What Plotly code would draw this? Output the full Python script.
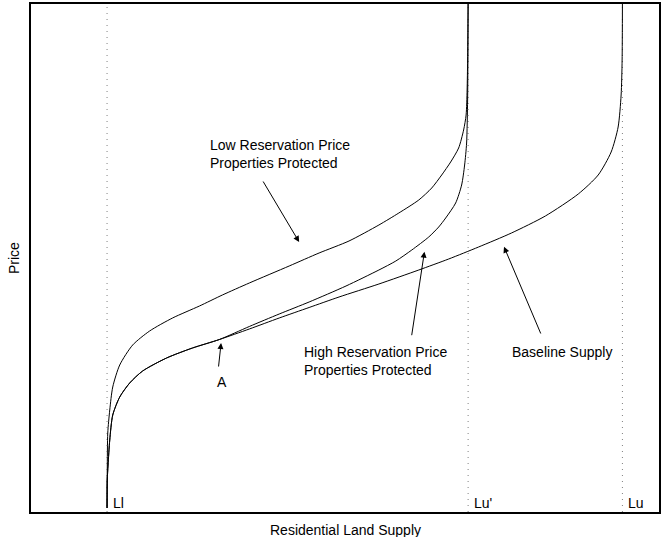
import plotly.graph_objects as go

# Data units: x in [0, 630], y in [0, 508] (no numeric ticks on the original chart)
low_x = [76.3, 76.5, 77, 79, 82, 89, 102, 119, 142, 169, 192, 219, 259, 289, 319, 349, 369, 389, 402, 412, 421, 429, 434, 436.5, 437.5, 438, 438.5]
low_y = [4, 42, 79, 102, 125, 147, 167, 181, 194, 206, 217, 229, 246, 259, 271, 287, 299, 312, 324, 337, 350, 364, 382, 397, 422, 452, 509]

high_x = [76.3, 76.5, 77.3, 79, 82, 89, 99, 112, 136, 162, 189, 219, 249, 279, 316, 349, 366, 382, 399, 409, 416, 426, 432, 435, 437, 438, 438.3, 438.5]
high_y = [4, 32, 47, 72, 97, 115, 129, 141, 154, 164, 172.5, 185.5, 198, 210, 226, 242, 251, 262, 275, 285, 294, 309, 327, 347, 369, 412, 452, 509]

base_x = [76.3, 76.5, 77.3, 79, 82, 89, 99, 112, 136, 162, 189, 219, 249, 279, 309, 349, 389, 419, 449, 482, 516, 549, 569, 582, 589, 592, 593, 593.3]
base_y = [4, 32, 47, 72, 97, 115, 129, 141, 154, 164, 172.5, 183, 194, 204.5, 215, 228, 242, 253, 265, 279, 296, 318, 337, 360, 385, 417, 452, 509]

ref_x = [76.3, 438.5, 593.3]
ref_labels = ["Ll", "Lu'", "Lu"]

FONT = "Liberation Sans, Arial, sans-serif"

fig = go.Figure()
for xs, ys in [(low_x, low_y), (high_x, high_y), (base_x, base_y)]:
    fig.add_trace(go.Scatter(x=xs, y=ys, mode="lines",
                             line=dict(color="black", width=1, shape="spline", smoothing=0.7),
                             hoverinfo="skip", showlegend=False))

for rx in ref_x:
    fig.add_shape(type="line", x0=rx, x1=rx, y0=0, y1=508, xref="x", yref="y",
                  line=dict(color="#808080", width=1, dash="1px,5px"), layer="below")

for rx, lab in zip(ref_x, ref_labels):
    fig.add_annotation(x=rx + 4, y=9, text=lab, showarrow=False, xanchor="left", yanchor="middle",
                       font=dict(family=FONT, size=14, color="black"))

# arrows (tail -> tip)
arrows = [((232, 332), (269, 270)),
          ((188, 144), (190.7, 169)),
          ((381.7, 175.3), (394.7, 260.3)),
          ((512, 177), (474.5, 265.3))]
for (tx, ty), (hx, hy) in arrows:
    fig.add_annotation(x=hx, y=hy, ax=tx, ay=ty, axref="x", ayref="y", xref="x", yref="y",
                       text="", showarrow=True, arrowhead=2, arrowsize=1.2, arrowwidth=1,
                       arrowcolor="black", standoff=0, startstandoff=0)

texts = [(178, 357.7, "Low Reservation Price<br>Properties Protected"),
         (184.5, 130.3, "A"),
         (271.7, 150.7, "High Reservation Price<br>Properties Protected"),
         (480.7, 160.3, "Baseline Supply")]
for x, y, t in texts:
    fig.add_annotation(x=x, y=y, text=t, showarrow=False, xanchor="left", yanchor="middle",
                       align="left", font=dict(family=FONT, size=14, color="black"))

fig.add_annotation(x=0.5, y=-0.0354, xref="paper", yref="paper", text="Residential Land Supply",
                   showarrow=False, xanchor="center", yanchor="middle",
                   font=dict(family=FONT, size=14, color="black"))
fig.add_annotation(x=-0.027, y=0.5, xref="paper", yref="paper", text="Price", textangle=-90,
                   showarrow=False, xanchor="center", yanchor="middle",
                   font=dict(family=FONT, size=14, color="black"))

fig.update_xaxes(range=[0, 630], showgrid=False, zeroline=False, showticklabels=False, ticks="",
                 showline=True, mirror=True, linecolor="black", linewidth=2)
fig.update_yaxes(range=[0, 508], showgrid=False, zeroline=False, showticklabels=False, ticks="",
                 showline=True, mirror=True, linecolor="black", linewidth=2)
fig.update_layout(width=663, height=537, margin=dict(l=31, r=2, t=4, b=25),
                  plot_bgcolor="white", paper_bgcolor="white")

fig.write_html("out.html", config={"displayModeBar": False},
               post_script="document.body.style.margin='0';document.body.style.overflow='hidden';")
